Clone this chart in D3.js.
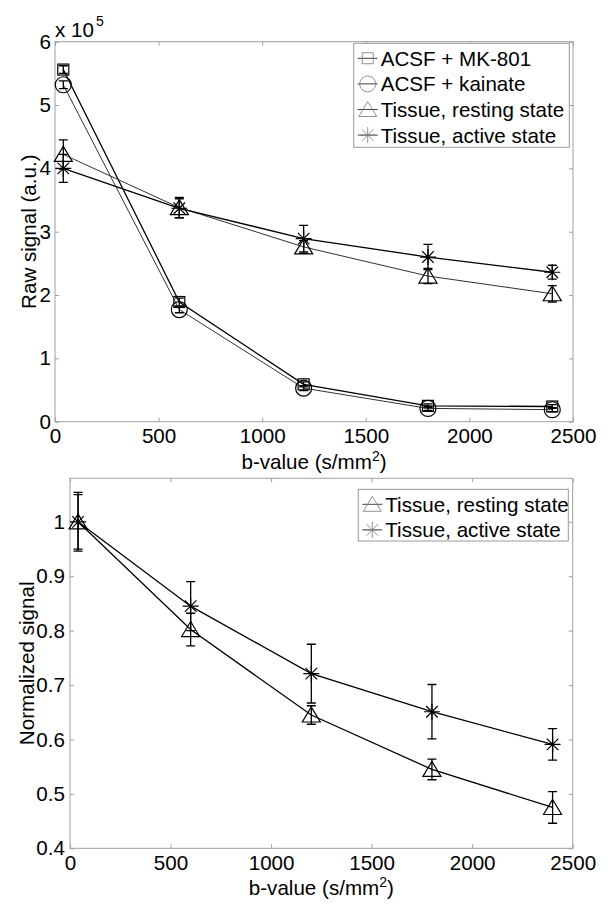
<!DOCTYPE html>
<html><head><meta charset="utf-8">
<script src="https://cdn.jsdelivr.net/npm/d3@7"></script>
<style>
body{margin:0;background:#fff;}
svg text{font-family:"Liberation Sans",Arial,Helvetica,sans-serif;fill:#000;}
</style>
</head><body>
<svg id="c" width="612" height="913"></svg>
<script>
// ---- data ----
const bValues = [40, 600, 1200, 1800, 2400];
const xTicks = [0, 500, 1000, 1500, 2000, 2500];

// top panel: raw signal (x 10^5)
const rawYTicks = [0, 1, 2, 3, 4, 5, 6];
const mk801 = [5.56, 1.89, 0.59, 0.25, 0.24];
const mk801Err = [0.06, 0.06, 0.04, 0.03, 0.03];
const kainate = [5.32, 1.77, 0.53, 0.21, 0.19];
const kainateErr = [0.06, 0.05, 0.04, 0.03, 0.03];
const restingRaw = [4.22, 3.38, 2.76, 2.30, 2.02];
const restingRawErr = [0.23, 0.16, 0.10, 0.12, 0.13];
const activeRaw = [4.00, 3.37, 2.89, 2.60, 2.36];
const activeRawErr = [0.22, 0.15, 0.21, 0.20, 0.11];

// bottom panel: normalized signal
const normYTicks = [0.4, 0.5, 0.6, 0.7, 0.8, 0.9, 1];
const restingNorm = [1.0, 0.802, 0.645, 0.545, 0.475];
const restingNormErr = [0.054, 0.03, 0.017, 0.019, 0.029];
const activeNorm = [1.0, 0.845, 0.721, 0.651, 0.591];
const activeNormErr = [0.05, 0.045, 0.054, 0.05, 0.029];

const rawLegend = ["ACSF + MK-801", "ACSF + kainate", "Tissue, resting state", "Tissue, active state"];
const normLegend = ["Tissue, resting state", "Tissue, active state"];

// ---- drawing ----
const svg = d3.select("#c");
const FS = 20.6;
const AX = "#a0a0a0";

function marker(g, type, x, y, color, sw) {
  const m = g.append("g").attr("transform", `translate(${x},${y})`)
    .attr("fill", "none").attr("stroke", color).attr("stroke-width", sw);
  if (type === "square") m.append("rect").attr("x", -5.5).attr("y", -5.5).attr("width", 11).attr("height", 11);
  else if (type === "circle") m.append("circle").attr("r", 8);
  else if (type === "triangle") m.append("path").attr("d", "M0,-8L9,7L-9,7Z");
  else if (type === "star") {
    const r = 8, d = r * 0.72;
    m.append("path").attr("d", `M${-r},0L${r},0M0,${-r}L0,${r}M${-d},${-d}L${d},${d}M${-d},${d}L${d},${-d}`);
  }
}

function panel(opt) {
  const {left, right, top, bottom, yDomain, yTicks, yFmt, series, legend, yLabel} = opt;
  const x = d3.scaleLinear().domain([0, 2500]).range([left, right]);
  const y = d3.scaleLinear().domain(yDomain).range([bottom, top]);
  const g = svg.append("g");

  // box
  g.append("rect").attr("x", left).attr("y", top).attr("width", right - left).attr("height", bottom - top)
    .attr("fill", "none").attr("stroke", AX).attr("stroke-width", 1);

  // axes
  const xb = g.append("g").attr("transform", `translate(0,${bottom})`)
    .call(d3.axisBottom(x).tickValues(xTicks).tickSizeInner(-4).tickSizeOuter(0).tickPadding(7).tickFormat(d3.format("d")));
  const xt = g.append("g").attr("transform", `translate(0,${top})`)
    .call(d3.axisTop(x).tickValues(xTicks).tickSizeInner(-4).tickSizeOuter(0).tickFormat(""));
  const yl = g.append("g").attr("transform", `translate(${left},0)`)
    .call(d3.axisLeft(y).tickValues(yTicks).tickSizeInner(-4).tickSizeOuter(0).tickPadding(opt.yPad).tickFormat(yFmt));
  const yr = g.append("g").attr("transform", `translate(${right},0)`)
    .call(d3.axisRight(y).tickValues(yTicks).tickSizeInner(-4).tickSizeOuter(0).tickFormat(""));
  [xb, xt, yl, yr].forEach(a => {
    a.select(".domain").remove();
    a.selectAll(".tick line").attr("stroke", AX);
    a.selectAll(".tick text").attr("font-size", FS).attr("font-family", '"Liberation Sans",Arial,sans-serif').attr("fill", "#000");
  });
  xb.selectAll(".tick text").attr("dy", "0.71em");

  // x label
  const xlab = g.append("text").attr("x", (left + right) / 2).attr("y", bottom + 47)
    .attr("text-anchor", "middle").attr("font-size", FS);
  xlab.append("tspan").text("b-value (s/mm");
  xlab.append("tspan").attr("font-size", 14).attr("dy", -8).text("2");
  xlab.append("tspan").attr("dy", 8).text(")");

  // y label
  g.append("text").attr("transform", `translate(${opt.yLabelX},${(top + bottom) / 2}) rotate(-90)`)
    .attr("text-anchor", "middle").attr("font-size", FS).text(yLabel);

  // series
  const line = d3.line().x((d, i) => x(bValues[i])).y(d => y(d));
  series.forEach(s => {
    g.append("path").datum(s.values).attr("d", line).attr("fill", "none")
      .attr("stroke", s.color).attr("stroke-width", s.width);
    s.values.forEach((v, i) => {
      const cx = x(bValues[i]);
      const y1 = y(v + s.err[i]), y2 = y(v - s.err[i]);
      g.append("path").attr("d", `M${cx},${y1}L${cx},${y2}M${cx - 4.5},${y1}L${cx + 4.5},${y1}M${cx - 4.5},${y2}L${cx + 4.5},${y2}`)
        .attr("stroke", "#000").attr("stroke-width", 1.3).attr("fill", "none");
      marker(g, s.type, cx, y(v), "#000", 1.2);
    });
  });

  // legend
  const L = opt.legendBox;
  const lg = g.append("g");
  lg.append("rect").attr("x", L.x).attr("y", L.y).attr("width", L.w).attr("height", L.h)
    .attr("fill", "#fff").attr("stroke", "#999").attr("stroke-width", 1);
  legend.forEach((name, i) => {
    const s = series[i];
    const cy = L.y + 15 + i * 25.6;
    const mx = L.x + 14;
    lg.append("line").attr("x1", mx - 10).attr("x2", mx + 10).attr("y1", cy).attr("y2", cy)
      .attr("stroke", "#444").attr("stroke-width", 1);
    marker(lg, s.type, mx, cy, "#777", 0.8);
    lg.append("text").attr("x", L.x + 27).attr("y", cy).attr("dy", "0.36em")
      .attr("font-size", FS).text(name);
  });
}

panel({
  left: 55, right: 573, top: 41.7, bottom: 421.7,
  yDomain: [0, 6], yTicks: rawYTicks, yFmt: d3.format("d"), yPad: 4,
  yLabel: "Raw signal (a.u.)", yLabelX: 36,
  series: [
    {values: mk801, err: mk801Err, type: "square", color: "#000", width: 1.3},
    {values: kainate, err: kainateErr, type: "circle", color: "#333", width: 1},
    {values: restingRaw, err: restingRawErr, type: "triangle", color: "#333", width: 1},
    {values: activeRaw, err: activeRawErr, type: "star", color: "#000", width: 1.3}
  ],
  legend: rawLegend,
  legendBox: {x: 353.7, y: 43.3, w: 215.6, h: 104}
});

panel({
  left: 70, right: 572.7, top: 478.3, bottom: 848.3,
  yDomain: [0.4, 1.08], yTicks: normYTicks, yFmt: d => d === 1 ? "1" : d3.format(".1f")(d), yPad: 5,
  yLabel: "Normalized signal", yLabelX: 34,
  series: [
    {values: restingNorm, err: restingNormErr, type: "triangle", color: "#000", width: 1.3},
    {values: activeNorm, err: activeNormErr, type: "star", color: "#000", width: 1.3}
  ],
  legend: normLegend,
  legendBox: {x: 358.3, y: 489.3, w: 210, h: 51.7}
});

// exponent label
const ex = svg.append("text").attr("x", 55).attr("y", 37).attr("font-size", FS);
ex.append("tspan").text("x 10");
ex.append("tspan").attr("font-size", 14).attr("dy", -11).attr("dx", 2).text("5");
</script>
</body></html>
